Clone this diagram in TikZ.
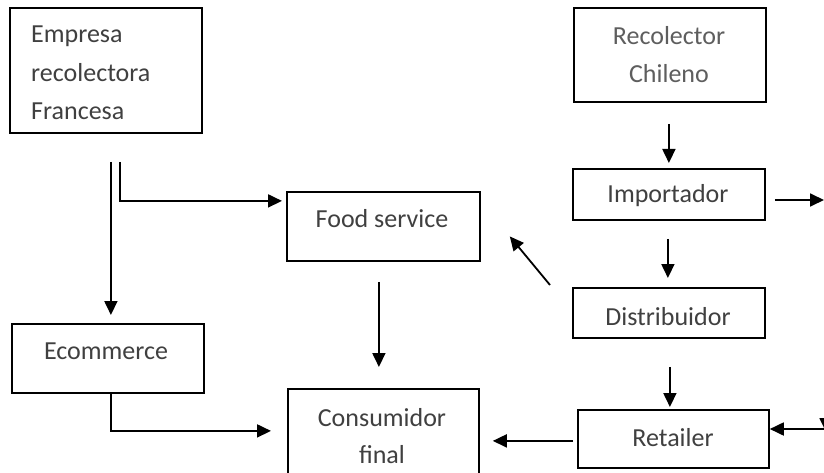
\documentclass[tikz,border=0pt]{standalone}
\usepackage{fontspec}
\setmainfont{Carlito}
\usetikzlibrary{arrows.meta,calc}
\definecolor{txtgray}{HTML}{404040}
\definecolor{txtlight}{HTML}{5E5E5E}
\begin{document}
\begin{tikzpicture}[x=1pt,y=-1pt,
  box/.style={draw=black, line width=1.8pt, inner sep=0pt, anchor=north west},
  arr/.style={line width=1.8pt, -{Triangle[length=14pt,width=13pt]}},
  txt/.style={text=txtgray, font=\fontsize{26}{38}\selectfont, inner sep=0pt, anchor=base},
  txtl/.style={txt, anchor=base west},
  txtr/.style={txt, text=txtlight},
]
\useasboundingbox (0,0) rectangle (824,473);
\fill[white] (0,0) rectangle (824,473);
\clip (0,0) rectangle (824,473);

% boxes
\node[box, minimum width=192pt, minimum height=125pt] (emp)  at (9,7)    {};
\node[box, minimum width=192pt, minimum height=94pt]  (rec)  at (573,7)  {};
\node[box, minimum width=192pt, minimum height=51pt]  (imp)  at (572,168) {};
\node[box, minimum width=192pt, minimum height=50pt]  (dist) at (572,287) {};
\node[box, minimum width=193pt, minimum height=69pt]  (fs)   at (286,191) {};
\node[box, minimum width=192pt, minimum height=69pt]  (ecom) at (11,323)  {};
\node[box, minimum width=191pt, minimum height=100pt] (cons) at (287,388) {};
\node[box, minimum width=191pt, minimum height=58pt]  (ret)  at (577,409) {};

% texts
\node[txtl] (empA) at (31,43)  {Empresa};
\node[txtl] (empB) at (31,82)  {recolectora};
\node[txtl] (empC) at (31,120) {Francesa};
\node[txtr] (recA) at (669,45) {Recolector};
\node[txtr] (recB) at (669,83) {Chileno};
\node[txt] (impT)  at (668,203) {Importador};
\node[txt] (distT) at (668,325) {Distribuidor};
\node[txt] (fsT)   at (382,227) {Food service};
\node[txt] (ecomT) at (106,359) {Ecommerce};
\node[txt] (consA) at (382,426) {Consumidor};
\node[txt] (consB) at (382,463) {final};
\node[txt] (retT)  at (673,446) {Retailer};

% free ends
\coordinate (impout) at (824,200);
\coordinate (retin)  at (824,429);
\coordinate (edgeA)  at (826,380);
\coordinate (edgeB)  at (826,432);

% connectors
\draw[arr] ($(rec.south)+(-1,21)$) -- ($(rec.south |- imp.north)+(-1,-5)$);
\draw[arr] ($(imp.east |- impout)+(9,0)$) -- (impout);
\draw[arr] ($(imp.south)+(-1,18)$) -- ($(imp.south |- dist.north)+(-1,-9)$);
\draw[arr] ($(dist.north west)+(-22,-2)$) -- ($(fs.east)+(29,10)$);
\draw[arr] ($(fs.south)+(-4.5,20)$) -- ($(fs.south |- cons.north)+(-4.5,-21)$);
\draw[arr] ($(emp.south)+(5,28)$) -- ($(emp.south |- ecom.north)+(5,-8)$);
\draw[arr] ($(emp.south)+(14,28)$) |- ($(fs.west)+(-4,-25.5)$);
\draw[arr] ($(ecom.south)+(3,0)$) |- ($(cons.west)+(-16,-8)$);
\draw[arr] ($(dist.south)+(1,28)$) -- ($(dist.south |- ret.north)+(1,-2)$);
\draw[arr] ($(ret.west)+(-4,2)$) -- ($(cons.east |- ret.west)+(13,2)$);
\draw[arr] (retin) -- (ret.east |- retin);
\draw[arr] (edgeA) -- (edgeB);
\end{tikzpicture}
\end{document}
